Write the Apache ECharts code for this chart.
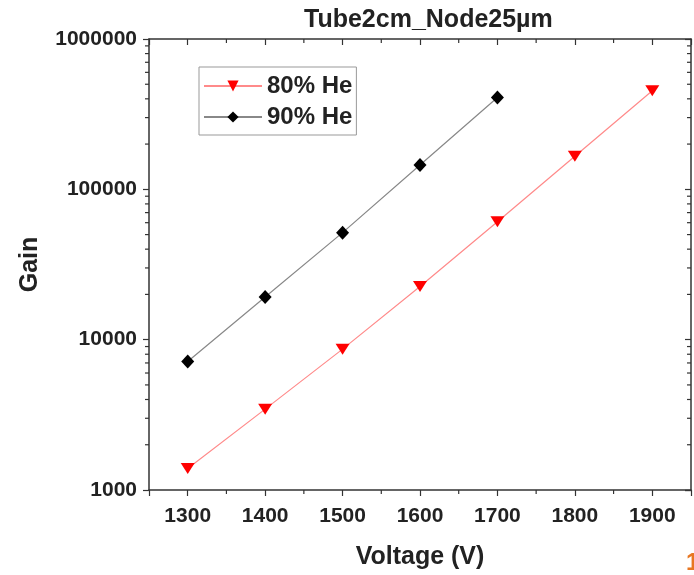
<!DOCTYPE html>
<html>
<head>
<meta charset="utf-8">
<script src="https://cdn.jsdelivr.net/npm/echarts@6/dist/echarts.min.js"></script>
<style>
  html, body { margin: 0; padding: 0; background: #fff; }
  #chart { width: 694px; height: 575px; }
</style>
</head>
<body>
<div id="chart"></div>
<script>
// Data
const voltage80 = [1300, 1400, 1500, 1600, 1700, 1800, 1900];
const gain80 = [1390, 3450, 8650, 22600, 60800, 166000, 453000];
const voltage90 = [1300, 1400, 1500, 1600, 1700];
const gain90 = [7150, 19200, 51500, 145000, 408000];

// Axis ranges and minor tick positions
const xRange = [1250, 1950];
const yRange = [1000, 1000000];
const xMinorTicks = [1350, 1450, 1550, 1650, 1750, 1850];
const yMinorTicks = [];
[1000, 10000, 100000].forEach(d => {
    for (let k = 2; k <= 9; k++) yMinorTicks.push(d * k);
});

const font = '"Liberation Sans", Arial, sans-serif';
const axisColor = '#333';

const chart = echarts.init(document.getElementById('chart'));

const labelStyle = {
    fontFamily: font,
    fontWeight: 'bold',
    fontSize: 21,
    color: '#222'
};

// Draws minor ticks through the chart's own scales
function minorX(params, api) {
    const b = api.coord([api.value(0), yRange[0]]);
    const t = api.coord([api.value(0), yRange[1]]);
    return {
        type: 'group',
        children: [
            { type: 'line', shape: { x1: b[0], y1: b[1], x2: b[0], y2: b[1] + 4 }, style: { stroke: axisColor, lineWidth: 1.2 } },
            { type: 'line', shape: { x1: t[0], y1: t[1], x2: t[0], y2: t[1] + 4 }, style: { stroke: axisColor, lineWidth: 1.2 } }
        ]
    };
}
function minorY(params, api) {
    const l = api.coord([xRange[0], api.value(1)]);
    const r = api.coord([xRange[1], api.value(1)]);
    return {
        type: 'group',
        children: [
            { type: 'line', shape: { x1: l[0] - 4, y1: l[1], x2: l[0], y2: l[1] }, style: { stroke: axisColor, lineWidth: 1.2 } },
            { type: 'line', shape: { x1: r[0] - 4, y1: r[1], x2: r[0], y2: r[1] }, style: { stroke: axisColor, lineWidth: 1.2 } }
        ]
    };
}

const option = {
    animation: false,
    backgroundColor: '#fff',
    textStyle: { fontFamily: font },
    title: {
        text: 'Tube2cm_Node25µm',
        left: 299,
        top: 3,
        textStyle: {
            fontFamily: font,
            fontWeight: 'bold',
            fontSize: 25,
            color: '#222'
        }
    },
    legend: {
        orient: 'vertical',
        left: 199,
        top: 67,
        data: ['80% He', '90% He'],
        itemWidth: 58,
        itemHeight: 14,
        itemGap: 7,
        padding: [7, 4, 6, 4],
        borderColor: '#999',
        borderWidth: 1,
        textStyle: {
            fontFamily: font,
            fontWeight: 'bold',
            fontSize: 24,
            color: '#222'
        }
    },
    grid: {
        left: 149,
        right: 1,
        top: 39,
        bottom: 82
    },
    xAxis: [
        {
            type: 'value',
            min: xRange[0],
            max: xRange[1],
            splitNumber: 7,
            position: 'bottom',
            name: 'Voltage (V)',
            nameLocation: 'middle',
            nameGap: 55,
            nameTextStyle: { fontFamily: font, fontWeight: 'bold', fontSize: 25, color: '#222' },
            axisLine: { lineStyle: { color: axisColor, width: 1.5 } },
            axisTick: { length: 6, lineStyle: { color: axisColor, width: 1.2 } },
            axisLabel: Object.assign({
                margin: 16,
                formatter: v => (v % 100 === 0 ? String(v) : '')
            }, labelStyle),
            splitLine: { show: false }
        },
        {
            type: 'value',
            min: xRange[0],
            max: xRange[1],
            splitNumber: 7,
            position: 'top',
            axisLine: { lineStyle: { color: axisColor, width: 1.5 } },
            axisTick: { inside: true, length: 6, lineStyle: { color: axisColor, width: 1.2 } },
            axisLabel: { show: false },
            splitLine: { show: false }
        }
    ],
    yAxis: [
        {
            type: 'log',
            logBase: 10,
            min: yRange[0],
            max: yRange[1],
            position: 'left',
            name: 'Gain',
            nameLocation: 'middle',
            nameGap: 106,
            nameTextStyle: { fontFamily: font, fontWeight: 'bold', fontSize: 25, color: '#222' },
            axisLine: { show: true, lineStyle: { color: axisColor, width: 1.5 } },
            axisTick: { show: true, length: 6, lineStyle: { color: axisColor, width: 1.2 } },
            axisLabel: Object.assign({
                margin: 12,
                formatter: v => String(Math.round(v))
            }, labelStyle),
            splitLine: { show: false }
        },
        {
            type: 'log',
            logBase: 10,
            min: yRange[0],
            max: yRange[1],
            position: 'right',
            axisLine: { show: true, lineStyle: { color: axisColor, width: 1.5 } },
            axisTick: { show: true, inside: true, length: 6, lineStyle: { color: axisColor, width: 1.2 } },
            axisLabel: { show: false },
            splitLine: { show: false }
        }
    ],
    series: [
        {
            name: '80% He',
            type: 'line',
            data: voltage80.map((v, i) => [v, gain80[i]]),
            symbol: 'path://M0,0L10,0L5,8Z',
            symbolSize: [14, 11],
            itemStyle: { color: '#ff0000' },
            lineStyle: { color: '#ff8a8a', width: 1.2 },
            z: 3
        },
        {
            name: '90% He',
            type: 'line',
            data: voltage90.map((v, i) => [v, gain90[i]]),
            symbol: 'diamond',
            symbolSize: [13, 14],
            itemStyle: { color: '#000' },
            lineStyle: { color: '#888', width: 1.2 },
            z: 3
        },
        {
            type: 'custom',
            silent: true,
            clip: false,
            renderItem: minorX,
            data: xMinorTicks.map(v => [v, yRange[0]]),
            z: 1
        },
        {
            type: 'custom',
            silent: true,
            clip: false,
            renderItem: minorY,
            data: yMinorTicks.map(v => [xRange[0], v]),
            z: 1
        }
    ],
    graphic: [
        {
            type: 'text',
            left: 686,
            top: 551,
            style: {
                text: '1',
                fill: '#e87722',
                font: 'bold 24px ' + font
            }
        }
    ]
};

chart.setOption(option);
</script>
</body>
</html>
